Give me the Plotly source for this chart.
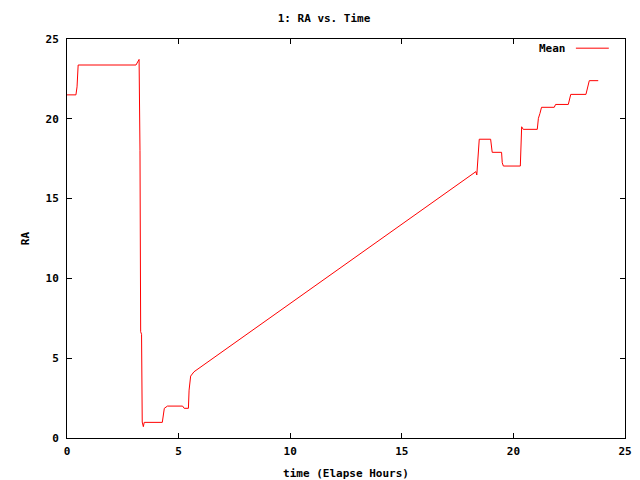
import plotly.graph_objects as go

# Data (time in elapsed hours, RA)
time_h = [0.0, 0.40, 0.45, 0.50, 3.09, 3.15, 3.20, 3.23, 3.27, 3.30, 3.34, 3.37,
          3.42, 3.46, 4.27, 4.33, 4.36, 4.50, 5.18, 5.25, 5.44, 5.47, 5.54, 5.69,
          18.32, 18.36, 18.40, 18.43, 18.47, 18.98, 19.02, 19.05, 19.47, 19.50,
          19.55, 20.31, 20.37, 20.44, 21.07, 21.12, 21.19, 21.26, 21.83, 21.89,
          22.46, 22.57, 23.25, 23.32, 23.40, 23.80]
ra = [21.5, 21.5, 22.0, 23.37, 23.37, 23.55, 23.72, 23.72, 18.0, 6.66, 6.5, 1.0,
      0.71, 0.98, 0.98, 1.6, 1.86, 2.0, 2.0, 1.86, 1.86, 3.0, 3.88, 4.15,
      16.69, 16.48, 17.5, 18.15, 18.72, 18.72, 18.15, 17.9, 17.9, 17.25,
      17.04, 17.04, 19.5, 19.34, 19.34, 20.03, 20.34, 20.72, 20.72, 20.9,
      20.9, 21.53, 21.53, 21.9, 22.39, 22.39]

x_ticks = [0, 5, 10, 15, 20, 25]
y_ticks = [0, 5, 10, 15, 20, 25]

FONT = dict(family="DejaVu Sans Mono", size=11, color="black", weight="bold")

fig = go.Figure()
fig.add_trace(go.Scatter(x=time_h, y=ra, mode="lines", name="Mean",
                         line=dict(color="#ff0000", width=1), showlegend=False))

axis_common = dict(showline=True, linecolor="black", linewidth=1, mirror="ticks",
                   ticks="inside", ticklen=5, tickcolor="black", showgrid=False,
                   zeroline=False, tickfont=FONT, automargin=False)

fig.update_layout(
    width=632, height=472,
    margin=dict(l=59, r=15, t=31, b=42),
    paper_bgcolor="white", plot_bgcolor="white",
    font=FONT,
    title=dict(text="1: RA vs. Time", x=0.5, xanchor="center", y=0.979,
               yanchor="middle", font=FONT),
    xaxis=dict(range=[0, 25], tickvals=x_ticks, ticklabelstandoff=3,
               title=dict(text="time (Elapse Hours)", font=FONT, standoff=12),
               **axis_common),
    yaxis=dict(range=[0, 25], tickvals=y_ticks, ticklabelstandoff=5,
               title=dict(text="RA", font=FONT, standoff=13), **axis_common),
)

# gnuplot-style key: text then line sample
fig.add_annotation(xref="paper", yref="paper", x=0.898, y=0.977, text="Mean",
                   showarrow=False, xanchor="right", yanchor="middle", font=FONT)
fig.add_shape(type="line", xref="paper", yref="paper", x0=0.912, x1=0.971,
              y0=0.977, y1=0.977, line=dict(color="#ff0000", width=1))

fig.write_html("out.html")
